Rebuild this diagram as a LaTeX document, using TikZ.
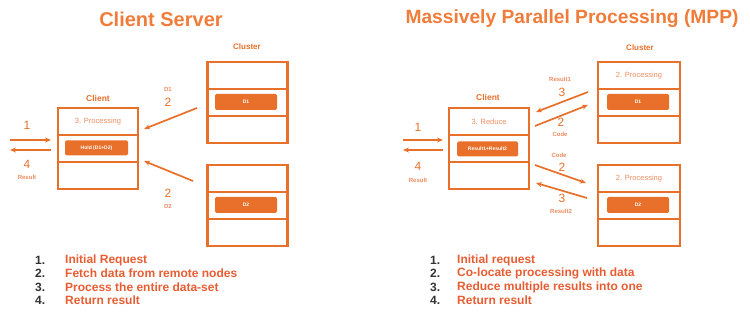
\documentclass[tikz,border=0pt]{standalone}
\usepackage{fontspec}
\setmainfont{Liberation Sans}
\usetikzlibrary{arrows.meta}
\definecolor{boxc}{RGB}{232,112,42}
\definecolor{titlec}{RGB}{240,124,58}
\definecolor{listc}{RGB}{232,92,50}
\definecolor{softc}{RGB}{236,140,96}
\definecolor{numc}{RGB}{50,50,50}
\tikzset{
  row/.style={draw=boxc, line width=2.4pt, minimum width=80pt, minimum height=27pt, inner sep=0pt,
              text=softc, font=\fontsize{7.5}{8}\selectfont},
  wrow/.style={row, minimum width=82pt},
  bar/.style={fill=boxc, rounded corners=1.5pt, minimum width=62pt, minimum height=16pt, inner sep=0pt,
              text=white, font=\bfseries\fontsize{5}{6}\selectfont},
  flow/.style={draw=boxc, line width=1.7pt, -{Stealth[length=6pt,width=5pt]}},
  title/.style={text=titlec, font=\bfseries\fontsize{20}{22}\selectfont},
  boxlabel/.style={text=boxc, font=\bfseries\fontsize{8.5}{9}\selectfont},
  digit/.style={text=boxc, font=\fontsize{12}{12}\selectfont, inner sep=0pt},
  tag/.style={text=softc, font=\bfseries\fontsize{6}{6}\selectfont, inner sep=0pt},
  listnum/.style={anchor=west, text=numc, font=\bfseries\fontsize{12}{13}\selectfont, inner sep=0pt},
  listtxt/.style={anchor=west, text=listc, font=\bfseries\fontsize{12}{13}\selectfont, inner sep=0pt}
}
\begin{document}
\begin{tikzpicture}[x=1pt,y=-1pt]
\useasboundingbox (0,0) rectangle (750,328);

% ---------------- Client Server ----------------
\node[title] (t1) at (161,19) {Client Server};

% client stack
\node[boxlabel] (cL) at (98,98) {Client};
\node[row] (lcA) at (98,121.5) {3. Processing};
\node[row] (lcB) at (98,148.5) {};
\node[row] (lcC) at (98,175.5) {};
\node[bar, minimum width=63pt, minimum height=15pt] (lcBar) at (96.5,148) {Hold (D1+D2)};

% cluster stacks
\node[boxlabel, font=\bfseries\fontsize{8}{9}\selectfont] (kL) at (247,47) {Cluster};
\node[row] (l1A) at (247.5,75.5) {};
\node[row] (l1B) at (247.5,102.5) {};
\node[row] (l1C) at (247.5,129.5) {};
\node[bar] (l1Bar) at (246,102) {D1};
\node[row] (l2A) at (247.5,178.5) {};
\node[row] (l2B) at (247.5,205.5) {};
\node[row] (l2C) at (247.5,232.5) {};
\node[bar] (l2Bar) at (246,205) {D2};

% request / result arrows
\coordinate (lin0) at (10,140);  \coordinate (lin1) at (51,140);
\coordinate (lout0) at (51,150); \coordinate (lout1) at (10,150);
\draw[flow] (lin0) -- (lin1);
\draw[flow] (lout0) -- (lout1);
\node[digit] (ln1) at (27,125) {1};
\node[digit] (ln4) at (27,164) {4};
\node[tag] (lres) at (27,177) {Result};

% data fetched from the cluster
\coordinate (lf1a) at (197,108); \coordinate (lf1b) at (144,129);
\coordinate (lf2a) at (193,181); \coordinate (lf2b) at (144,161);
\draw[flow] (lf1a) -- (lf1b);
\draw[flow] (lf2a) -- (lf2b);
\node[tag] (ld1) at (168,89) {D1};
\node[digit] (lf1n) at (168,102) {2};
\node[digit] (lf2n) at (168,193) {2};
\node[tag] (ld2) at (168,206) {D2};

% steps
\node[listnum] (ln1s) at (35,260) {1.};
\node[listtxt] (lt1) at (65,260) {Initial Request};
\node[listnum] (ln2s) at (35,273.5) {2.};
\node[listtxt] (lt2) at (65,273.5) {Fetch data from remote nodes};
\node[listnum] (ln3s) at (35,287) {3.};
\node[listtxt] (lt3) at (65,287) {Process the entire data-set};
\node[listnum] (ln4s) at (35,300.5) {4.};
\node[listtxt] (lt4) at (65,300.5) {Return result};

% ---------------- MPP ----------------
\node[title, font=\bfseries\fontsize{19.2}{22}\selectfont] (t2) at (572,19) {Massively Parallel Processing (MPP)};

\node[boxlabel] (cR) at (488,97) {Client};
\node[row] (rcA) at (489,121.5) {3. Reduce};
\node[row] (rcB) at (489,148.5) {};
\node[row] (rcC) at (489,175.5) {};
\node[bar, minimum width=61pt, minimum height=15pt] (rcBar) at (487.5,149) {Result1+Result2};

\node[boxlabel, font=\bfseries\fontsize{8}{9}\selectfont] (kR) at (640,48) {Cluster};
\node[wrow] (r1A) at (639,75.5) {2. Processing};
\node[wrow] (r1B) at (639,102.5) {};
\node[wrow] (r1C) at (639,129.5) {};
\node[bar] (r1Bar) at (638,102) {D1};
\node[wrow] (r2A) at (639,178.5) {2. Processing};
\node[wrow] (r2B) at (639,205.5) {};
\node[wrow] (r2C) at (639,232.5) {};
\node[bar] (r2Bar) at (638,205) {D2};

\coordinate (rin0) at (403,140);  \coordinate (rin1) at (443,140);
\coordinate (rout0) at (443,150); \coordinate (rout1) at (403,150);
\draw[flow] (rin0) -- (rin1);
\draw[flow] (rout0) -- (rout1);
\node[digit] (rn1) at (418,127) {1};
\node[digit] (rn4) at (418,166) {4};
\node[tag] (rres) at (418,180) {Result};

% code shipped out, results returned
\coordinate (rr1a) at (588,92);  \coordinate (rr1b) at (536,112);
\coordinate (rc1a) at (535,126); \coordinate (rc1b) at (588,105);
\coordinate (rc2a) at (535,165); \coordinate (rc2b) at (586,183);
\coordinate (rr2a) at (587,198); \coordinate (rr2b) at (536,183);
\draw[flow] (rr1a) -- (rr1b);
\draw[flow] (rc1a) -- (rc1b);
\draw[flow] (rc2a) -- (rc2b);
\draw[flow] (rr2a) -- (rr2b);
\node[tag] (rres1) at (560,79) {Result1};
\node[digit] (rr1n) at (562,92) {3};
\node[digit] (rc1n) at (561,122) {2};
\node[tag] (rcode1) at (560,134) {Code};
\node[tag] (rcode2) at (559,155) {Code};
\node[digit] (rc2n) at (562,167) {2};
\node[digit] (rr2n) at (562,198) {3};
\node[tag] (rres2) at (561,211) {Result2};

\node[listnum] (rn1s) at (430,260) {1.};
\node[listtxt] (rt1) at (457,260) {Initial request};
\node[listnum] (rn2s) at (430,273.5) {2.};
\node[listtxt] (rt2) at (457,273.5) {Co-locate processing with data};
\node[listnum] (rn3s) at (430,287) {3.};
\node[listtxt] (rt3) at (457,287) {Reduce multiple results into one};
\node[listnum] (rn4s) at (430,300.5) {4.};
\node[listtxt] (rt4) at (457,300.5) {Return result};
\end{tikzpicture}
\end{document}
